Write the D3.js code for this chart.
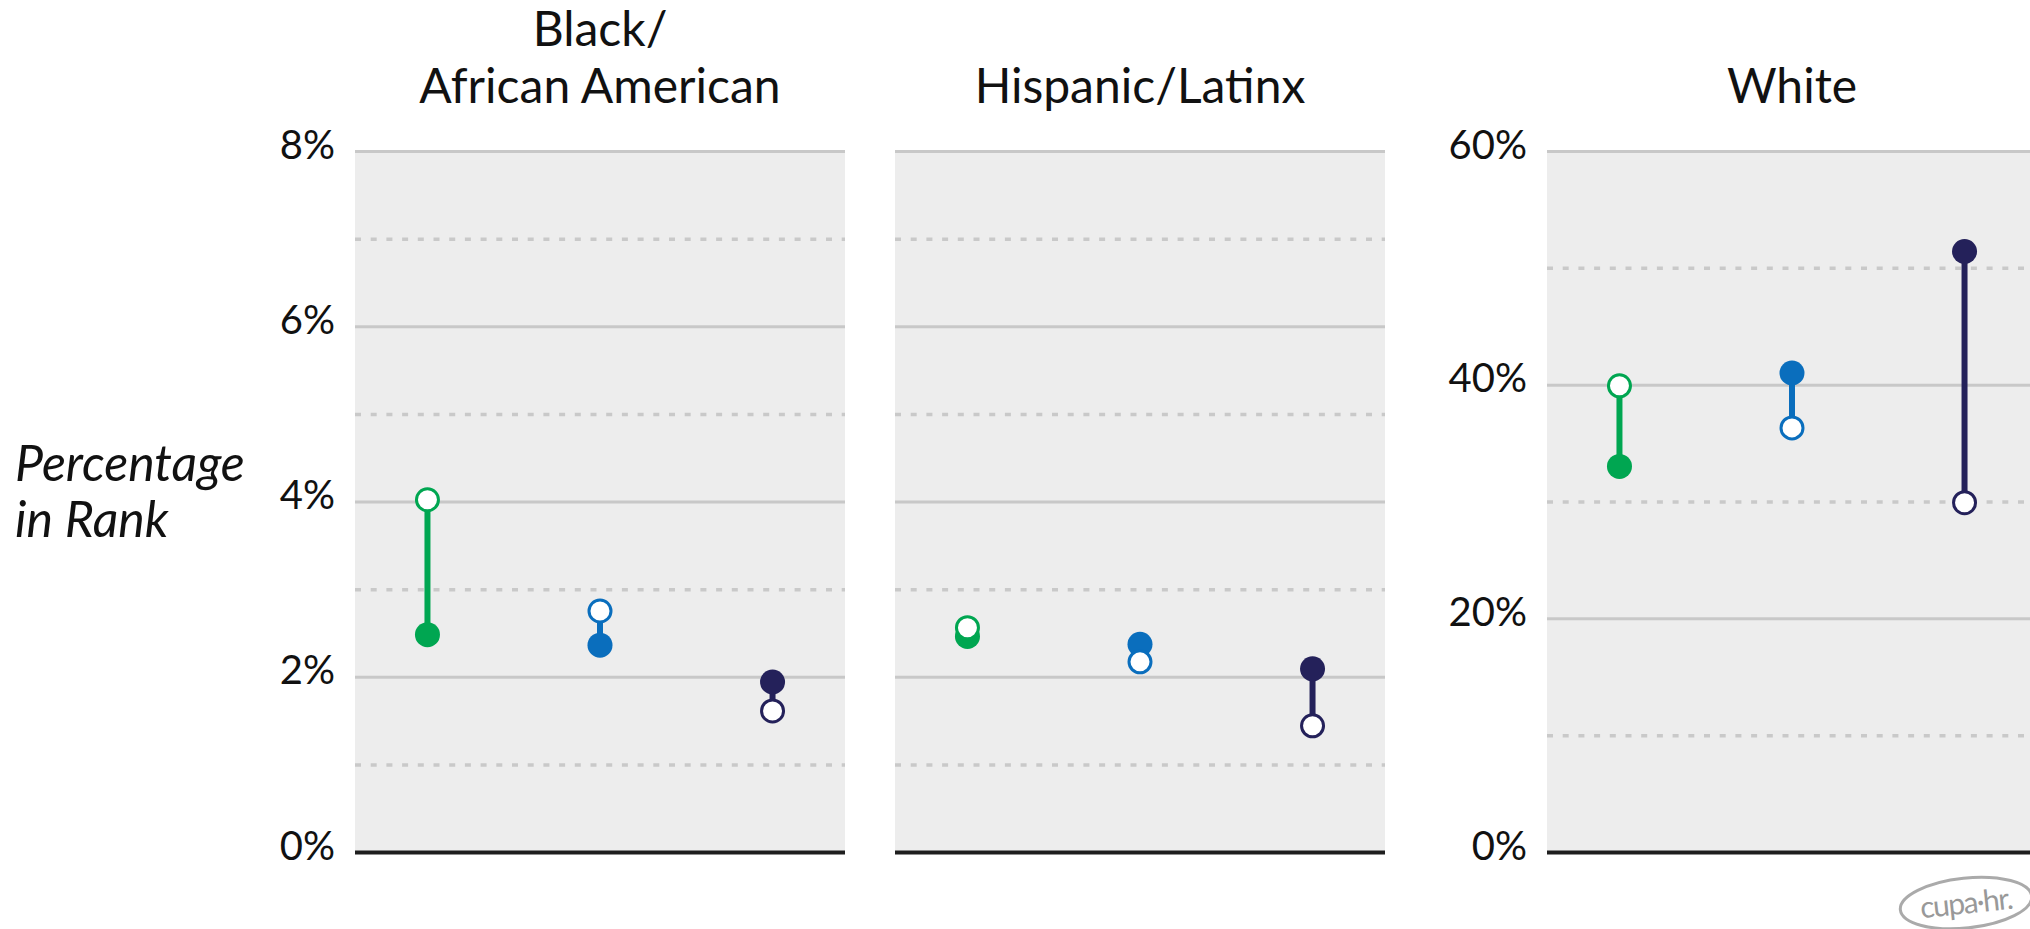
<!DOCTYPE html>
<html>
<head>
<meta charset="utf-8">
<script src="https://cdn.jsdelivr.net/npm/d3@7"></script>
<style>
  body { margin: 0; background: #fff; }
  svg { display: block; font-family: Lato, "Noto Sans", sans-serif; }
</style>
</head>
<body>
<div id="chart"></div>
<script>
// three ranks per panel (not labelled in the chart)
const ranks = ["rank1", "rank2", "rank3"];
const rankColors = ["#00a651", "#0a6ebd", "#24215a"];

// panel titles, one array of lines each
const panelTitles = [["Black/", "African American"], ["Hispanic/Latinx"], ["White"]];

// filled dot / open dot values, in percent
const blackFilled = [2.48, 2.36, 1.94];
const blackOpen   = [4.02, 2.75, 1.61];
const hispFilled  = [2.46, 2.37, 2.09];
const hispOpen    = [2.56, 2.17, 1.44];
const whiteFilled = [33.0, 41.0, 51.4];
const whiteOpen   = [39.9, 36.3, 29.9];

// axes
const smallMax = 8, whiteMax = 60;
const smallSolid = [0, 2, 4, 6, 8], smallDashed = [1, 3, 5, 7];
const whiteSolid = [0, 20, 40, 60], whiteDashed = [10, 30, 50];

const panels = [
  {title: panelTitles[0], filled: blackFilled, open: blackOpen, max: smallMax, solid: smallSolid, dashed: smallDashed, labels: true},
  {title: panelTitles[1], filled: hispFilled, open: hispOpen, max: smallMax, solid: smallSolid, dashed: smallDashed, labels: false},
  {title: panelTitles[2], filled: whiteFilled, open: whiteOpen, max: whiteMax, solid: whiteSolid, dashed: whiteDashed, labels: true}
];

const W = 2030, H = 929;
const plotTop = 151, plotBottom = 852, panelW = 490;
const panelLeft = [355, 895, 1547];

const svg = d3.select("#chart").append("svg")
    .attr("width", W).attr("height", H);

// y axis title
const ytitle = svg.append("text")
    .attr("font-style", "italic").attr("font-size", 50).attr("fill", "#111");
ytitle.append("tspan").attr("x", 15).attr("y", 481).text("Percentage");
ytitle.append("tspan").attr("x", 15).attr("y", 537).text("in Rank");

panels.forEach(function(p, i){
    const x0 = panelLeft[i];
    const x = d3.scalePoint().domain(ranks).range([x0, x0 + panelW]).padding(0.42);
    const y = d3.scaleLinear().domain([0, p.max]).range([plotBottom, plotTop]);
    const g = svg.append("g");

    // title
    const t = g.append("text")
        .attr("text-anchor", "middle").attr("font-size", 48).attr("fill", "#111");
    p.title.forEach(function(line, j){
        t.append("tspan")
            .attr("x", x0 + panelW / 2)
            .attr("y", 103 - (p.title.length - 1 - j) * 57)
            .text(line);
    });

    g.append("rect")
        .attr("x", x0).attr("y", plotTop)
        .attr("width", panelW).attr("height", plotBottom - plotTop)
        .attr("fill", "#ededed");

    // dashed grid
    const dashed = g.append("g")
        .call(d3.axisLeft(y).tickValues(p.dashed).tickSize(-panelW).tickFormat(""))
        .attr("transform", "translate(" + x0 + ",0)");
    dashed.select(".domain").remove();
    dashed.selectAll("line")
        .attr("stroke", "#c9c9c9").attr("stroke-width", 3.5).attr("stroke-dasharray", "6,9.7");

    // solid grid + labels
    const solid = g.append("g")
        .call(d3.axisLeft(y).tickValues(p.solid).tickSize(-panelW).tickPadding(20)
            .tickFormat(d => p.labels ? d + "%" : ""))
        .attr("transform", "translate(" + x0 + ",0)");
    solid.select(".domain").remove();
    solid.selectAll("line")
        .attr("stroke", d => d === 0 ? "#1e1e1e" : "#c8c8c8")
        .attr("stroke-width", d => d === 0 ? 4 : 3);
    solid.selectAll("text")
        .attr("font-family", "Lato, 'Noto Sans', sans-serif")
        .attr("font-size", 40).attr("fill", "#111").attr("dy", "0.18em");

    // stems
    g.selectAll(".stem").data(ranks).join("line")
        .attr("x1", d => x(d)).attr("x2", d => x(d))
        .attr("y1", (d, k) => y(p.filled[k])).attr("y2", (d, k) => y(p.open[k]))
        .attr("stroke", (d, k) => rankColors[k]).attr("stroke-width", 6);

    g.selectAll(".filled").data(ranks).join("circle")
        .attr("cx", d => x(d)).attr("cy", (d, k) => y(p.filled[k]))
        .attr("r", 12.5).attr("fill", (d, k) => rankColors[k]);

    g.selectAll(".open").data(ranks).join("circle")
        .attr("cx", d => x(d)).attr("cy", (d, k) => y(p.open[k]))
        .attr("r", 11).attr("fill", "#fff")
        .attr("stroke", (d, k) => rankColors[k]).attr("stroke-width", 3);
});

// cupa-hr mark
const logo = svg.append("g").attr("transform", "translate(1966,903) rotate(-6)");
logo.append("ellipse").attr("rx", 66).attr("ry", 25)
    .attr("fill", "none").attr("stroke", "#aaa").attr("stroke-width", 3);
logo.append("text").attr("text-anchor", "middle").attr("dy", "0.35em")
    .attr("font-size", 30).attr("fill", "#999").attr("letter-spacing", -1.5)
    .text("cupa·hr.");
</script>
</body>
</html>
